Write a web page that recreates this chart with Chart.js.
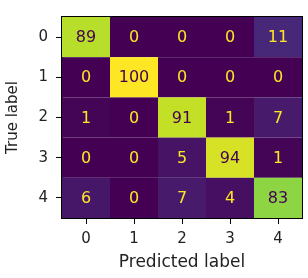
<!DOCTYPE html>
<html>
<head>
<meta charset="utf-8">
<script src="https://cdn.jsdelivr.net/npm/chart.js@4"></script>
<style>
  body { margin: 0; background: #fff; }
</style>
</head>
<body>
<canvas id="myChart" width="308" height="278"></canvas>
<script>
// метки классов
const classLabels = ['0', '1', '2', '3', '4'];
// строки матрицы ошибок (истинная метка -> предсказанная)
const true0 = [89, 0, 0, 0, 11];
const true1 = [0, 100, 0, 0, 0];
const true2 = [1, 0, 91, 1, 7];
const true3 = [0, 0, 5, 94, 1];
const true4 = [6, 0, 7, 4, 83];
const rows = [true0, true1, true2, true3, true4];

const vmin = 0;
const vmax = 100;

// viridis, опорные цвета через 0.1
const viridis = ['#440154', '#482475', '#414487', '#355f8d', '#2a788e', '#21918c',
                 '#22a884', '#44bf70', '#7ad151', '#bddf26', '#fde725'];

function hexToRgb(h) {
    return [parseInt(h.slice(1, 3), 16), parseInt(h.slice(3, 5), 16), parseInt(h.slice(5, 7), 16)];
}

function cmap(t) {
    t = Math.max(0, Math.min(1, t));
    const pos = t * (viridis.length - 1);
    const i = Math.min(Math.floor(pos), viridis.length - 2);
    const f = pos - i;
    const a = hexToRgb(viridis[i]);
    const b = hexToRgb(viridis[i + 1]);
    const c = a.map((v, k) => Math.round(v + (b[k] - v) * f));
    return 'rgb(' + c.join(',') + ')';
}

const points = [];
rows.forEach((row, i) => {
    row.forEach((v, j) => points.push({ x: j, y: i, v: v }));
});

const font = { family: 'DejaVu Sans', size: 15 };
const cellFont = { family: 'DejaVu Sans', size: 16 };

// рисуем ячейки через шкалы графика
const heatmapPlugin = {
    id: 'heatmap',
    beforeDatasetsDraw(chart) {
        const ctx = chart.ctx;
        const xs = chart.scales.x;
        const ys = chart.scales.y;
        const data = chart.data.datasets[0].data;
        ctx.save();
        data.forEach((p) => {
            const x0 = xs.getPixelForValue(p.x - 0.5);
            const x1 = xs.getPixelForValue(p.x + 0.5);
            const y0 = ys.getPixelForValue(p.y - 0.5);
            const y1 = ys.getPixelForValue(p.y + 0.5);
            ctx.fillStyle = cmap((p.v - vmin) / (vmax - vmin));
            ctx.fillRect(x0, y0, x1 - x0, y1 - y0);
        });
        ctx.font = cellFont.size + 'px ' + cellFont.family;
        ctx.textAlign = 'center';
        ctx.textBaseline = 'middle';
        data.forEach((p) => {
            const cx = xs.getPixelForValue(p.x);
            const cy = ys.getPixelForValue(p.y);
            ctx.fillStyle = p.v < (vmin + vmax) / 2 ? viridis[10] : viridis[0];
            ctx.fillText(String(p.v), cx, cy + 1);
        });
        // рамка
        const a = chart.chartArea;
        ctx.strokeStyle = '#000';
        ctx.lineWidth = 1;
        ctx.strokeRect(a.left - 0.5, a.top - 0.5, a.right - a.left + 1, a.bottom - a.top + 1);
        ctx.restore();
    }
};

function setTicks(scale) {
    scale.ticks = classLabels.map((_, i) => ({ value: i }));
}

const ctx = document.getElementById('myChart').getContext('2d');
const myChart = new Chart(ctx, {
    type: 'scatter',
    data: {
        datasets: [{
            data: points,
            pointRadius: 0,
            pointHoverRadius: 0
        }]
    },
    options: {
        responsive: false,
        animation: false,
        devicePixelRatio: 1,
        layout: {
            padding: { top: 7, right: 6, left: 0, bottom: 0 }
        },
        plugins: {
            legend: { display: false },
            tooltip: { enabled: false }
        },
        scales: {
            x: {
                type: 'linear',
                min: -0.5,
                max: 4.5,
                afterBuildTicks: setTicks,
                afterFit: (s) => { s.height = 60; },
                grid: { drawOnChartArea: false, drawTicks: true, tickLength: 6, tickColor: '#000' },
                border: { display: true, color: '#000' },
                ticks: {
                    font: font,
                    color: '#222',
                    padding: 6,
                    maxRotation: 0,
                    callback: (v) => classLabels[v]
                },
                title: {
                    display: true,
                    text: 'Predicted label',
                    font: { family: 'DejaVu Sans', size: 17 },
                    color: '#222',
                    padding: { top: 0, bottom: 5 }
                }
            },
            y: {
                type: 'linear',
                min: -0.5,
                max: 4.5,
                reverse: true,
                afterBuildTicks: setTicks,
                afterFit: (s) => { s.width = 62; },
                grid: { drawOnChartArea: false, drawTicks: true, tickLength: 6, tickColor: '#000' },
                border: { display: true, color: '#000' },
                ticks: {
                    font: font,
                    color: '#222',
                    padding: 8,
                    callback: (v) => classLabels[v]
                },
                title: {
                    display: true,
                    text: 'True label',
                    font: font,
                    color: '#222',
                    padding: { top: 4, bottom: 4 }
                }
            }
        }
    },
    plugins: [heatmapPlugin]
});
</script>
</body>
</html>
